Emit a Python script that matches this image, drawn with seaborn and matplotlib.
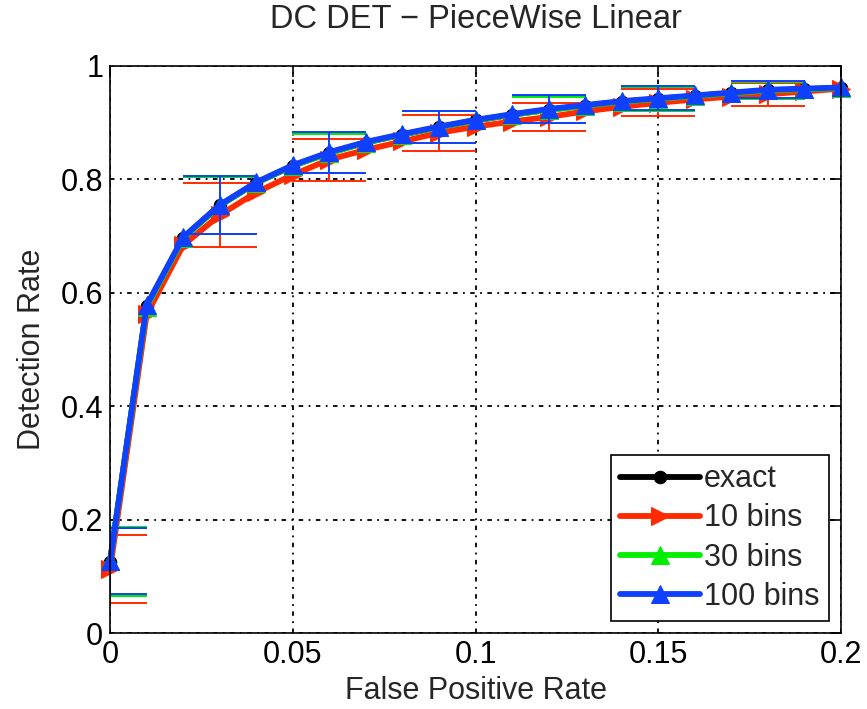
import numpy as np
import pandas as pd
import matplotlib
matplotlib.use("Agg")
import matplotlib.pyplot as plt
import seaborn as sns

# ---------------- data ----------------
fpr = [0.00, 0.01, 0.02, 0.03, 0.04, 0.05, 0.06, 0.07, 0.08, 0.09, 0.10,
       0.11, 0.12, 0.13, 0.14, 0.15, 0.16, 0.17, 0.18, 0.19, 0.20]

det_exact = [0.126, 0.576, 0.697, 0.754, 0.794, 0.824, 0.847, 0.865, 0.879, 0.892, 0.904,
             0.914, 0.923, 0.930, 0.937, 0.942, 0.947, 0.952, 0.957, 0.959, 0.961]
det_10 = [0.113, 0.562, 0.684, 0.737, 0.777, 0.808, 0.835, 0.852, 0.867, 0.882, 0.893,
          0.902, 0.910, 0.920, 0.928, 0.935, 0.941, 0.946, 0.950, 0.955, 0.960]
det_30 = [0.127, 0.575, 0.696, 0.754, 0.794, 0.824, 0.846, 0.865, 0.879, 0.892, 0.904,
          0.914, 0.922, 0.930, 0.937, 0.942, 0.947, 0.952, 0.957, 0.959, 0.961]
det_100 = [0.127, 0.578, 0.698, 0.755, 0.795, 0.825, 0.848, 0.866, 0.880, 0.893, 0.905,
           0.915, 0.924, 0.931, 0.938, 0.943, 0.948, 0.953, 0.958, 0.960, 0.962]

err_x = [0.00, 0.03, 0.06, 0.09, 0.12, 0.15, 0.18]
err_exact = [0.060, 0.050, 0.035, 0.028, 0.024, 0.021, 0.015]
err_10 = [0.060, 0.056, 0.037, 0.032, 0.024, 0.024, 0.020]
err_30 = [0.061, 0.050, 0.034, 0.028, 0.023, 0.021, 0.015]
err_100 = [0.058, 0.051, 0.036, 0.028, 0.024, 0.021, 0.015]

labels = ["exact", "10 bins", "30 bins", "100 bins"]
x_ticks = [0, 0.05, 0.1, 0.15, 0.2]
x_tick_labels = ["0", "0.05", "0.1", "0.15", "0.2"]
y_ticks = [0, 0.2, 0.4, 0.6, 0.8, 1.0]
y_tick_labels = ["0", "0.2", "0.4", "0.6", "0.8", "1"]

# ---------------- style ----------------
sns.set_theme(style="white")
plt.rcParams["font.family"] = ["Liberation Sans", "DejaVu Sans"]
FS = 22

fig = plt.figure(figsize=(8.67, 7.09), dpi=100)
ax = fig.add_axes([0.127, 0.107, 0.843, 0.800])

series = [
    (labels[0], det_exact, err_exact, "black", "o", 9),
    (labels[1], det_10, err_10, "#ff2a00", ">", 13),
    (labels[2], det_30, err_30, "#00ee00", "^", 13),
    (labels[3], det_100, err_100, "#1040ff", "^", 13),
]

z = 3
for name, vals, errs, color, marker, ms in series:
    centers = [vals[fpr.index(v)] for v in err_x]
    ax.errorbar(err_x, centers, yerr=errs, fmt="none", ecolor=color,
                elinewidth=1.4, capsize=26.3, capthick=1.4, zorder=z)
    sns.lineplot(x=fpr, y=vals, color=color, marker=marker, markersize=ms,
                 markeredgecolor=color, linewidth=4.2, label=name, ax=ax,
                 zorder=z + 0.5, clip_on=False)
    z += 1

ax.set_xlim(0, 0.2)
ax.set_ylim(0, 1)
ax.set_xticks(x_ticks)
ax.set_xticklabels(x_tick_labels, fontsize=FS)
ax.set_yticks(y_ticks)
ax.set_yticklabels(y_tick_labels, fontsize=FS)
ax.tick_params(direction="in", length=8, width=1.2, top=True, right=True,
               colors="black", pad=5)
for s in ax.spines.values():
    s.set_color("black")
    s.set_linewidth(1.2)
    s.set_zorder(10)

ax.grid(True, color="black", linestyle=(0, (2.5, 3, 1, 3)), linewidth=1.3)
ax.set_axisbelow(True)

ax.set_title("DC DET − PieceWise Linear", fontsize=FS + 1.5, pad=27)
ax.set_xlabel("False Positive Rate", fontsize=FS, labelpad=4)
ax.set_ylabel("Detection Rate", fontsize=FS, labelpad=10)

leg = ax.legend(loc="lower right", fontsize=FS, frameon=True, fancybox=False,
                edgecolor="black", framealpha=1, handlelength=2.6,
                handletextpad=0.15, labelspacing=0.3, borderpad=0.3,
                borderaxespad=0.4, numpoints=1)
leg.get_frame().set_linewidth(1.2)
leg.set_zorder(20)

fig.savefig("out.png", dpi=100)
